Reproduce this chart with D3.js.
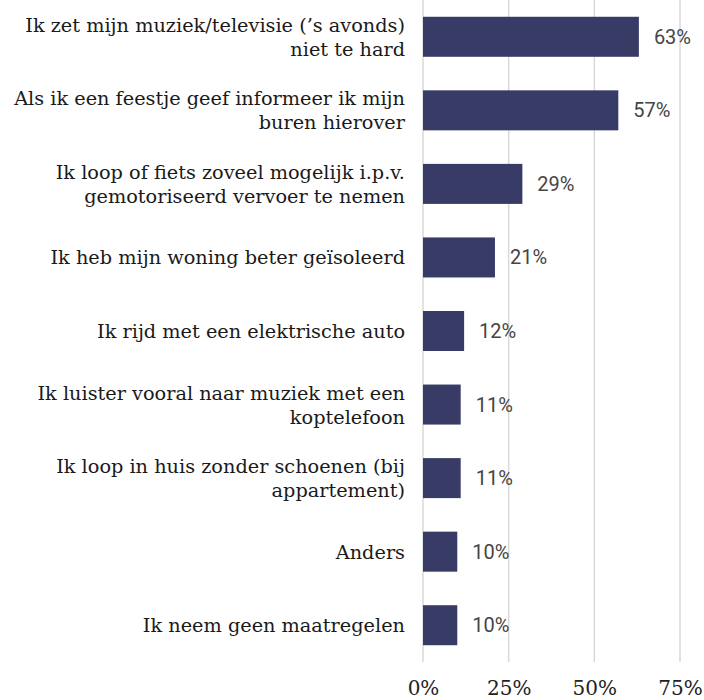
<!DOCTYPE html>
<html>
<head>
<meta charset="utf-8">
<script src="https://cdn.jsdelivr.net/npm/d3@7"></script>
<style>
  body { margin: 0; background: #fff; }
  svg { display: block; }
</style>
</head>
<body>
<svg id="chart"></svg>
<script>
// categories, top to bottom (line breaks as in the original)
var categories = [
    "Ik zet mijn muziek/televisie (\u2019s avonds)\nniet te hard",
    "Als ik een feestje geef informeer ik mijn\nburen hierover",
    "Ik loop of fiets zoveel mogelijk i.p.v.\ngemotoriseerd vervoer te nemen",
    "Ik heb mijn woning beter ge\u00efsoleerd",
    "Ik rijd met een elektrische auto",
    "Ik luister vooral naar muziek met een\nkoptelefoon",
    "Ik loop in huis zonder schoenen (bij\nappartement)",
    "Anders",
    "Ik neem geen maatregelen"
];
var values = [63, 57, 29, 21, 12, 11, 11, 10, 10];
var ticks = [0, 25, 50, 75];

var width = 704, height = 700;
var svg = d3.select("svg#chart")
    .attr("width", width)
    .attr("height", height);

var x = d3.scaleLinear()
    .domain([0, 75])
    .range([423, 680]);

var y = d3.scaleBand()
    .domain(categories)
    .range([0, 662])
    .paddingInner(0.456)
    .paddingOuter(0.228);

// gridlines
svg.append("g")
    .attr("class", "grid")
    .selectAll("line")
    .data(ticks)
    .enter()
    .append("line")
    .attr("x1", d => x(d))
    .attr("x2", d => x(d))
    .attr("y1", 0)
    .attr("y2", 662)
    .style("stroke", "#d9d9d9")
    .style("stroke-width", 1.5);

// bottom axis (labels only)
var xAxis = svg.append("g")
    .attr("transform", "translate(0, 695)")
    .call(d3.axisBottom(x).tickValues(ticks).tickSize(0).tickFormat(d => d + "%"));
xAxis.select(".domain").remove();
xAxis.selectAll("text")
    .attr("y", 0)
    .attr("dy", 0)
    .style("font-family", "DejaVu Serif")
    .style("font-size", "20px")
    .style("fill", "#222");

// bars
svg.append("g")
    .selectAll("rect")
    .data(values)
    .enter()
    .append("rect")
    .attr("x", x(0))
    .attr("y", (d, i) => y(categories[i]))
    .attr("width", d => x(d) - x(0))
    .attr("height", y.bandwidth())
    .attr("fill", "#383b65");

// value labels
svg.append("g")
    .selectAll("text")
    .data(values)
    .enter()
    .append("text")
    .attr("x", d => x(d) + 15)
    .attr("y", (d, i) => y(categories[i]) + y.bandwidth() / 2)
    .attr("dy", "0.35em")
    .style("font-family", "Roboto")
    .style("font-size", "20px")
    .style("fill", "#454545")
    .text(d => d + "%");

// category labels
var lineHeight = 24;
var labels = svg.append("g")
    .selectAll("text")
    .data(categories)
    .enter()
    .append("text")
    .attr("text-anchor", "end")
    .style("font-family", "DejaVu Serif")
    .style("font-size", "19.3px")
    .style("fill", "#1a1a1a");

labels.each(function(d) {
    var lines = d.split("\n");
    var cy = y(d) + y.bandwidth() / 2;
    var first = cy - (lines.length - 1) * lineHeight / 2 + 7;
    var t = d3.select(this);
    lines.forEach(function(line, k) {
        t.append("tspan")
            .attr("x", 405)
            .attr("y", first + k * lineHeight)
            .text(line);
    });
});
</script>
</body>
</html>
